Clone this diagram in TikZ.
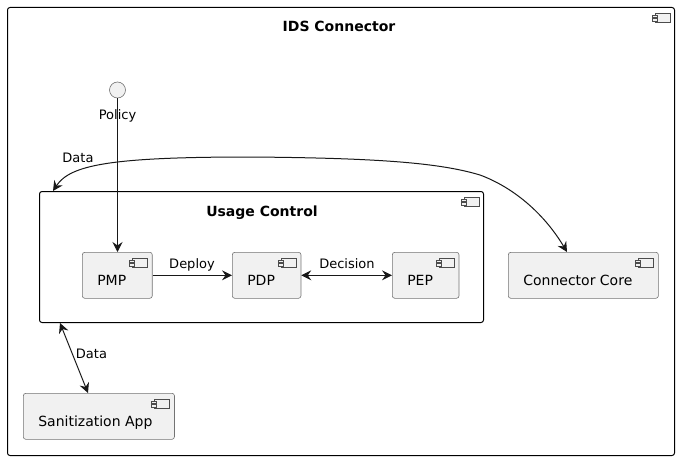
\documentclass[tikz,border=0pt]{standalone}
\usepackage{fontspec}
\setmainfont{DejaVu Sans}
\usetikzlibrary{calc}
\usetikzlibrary{arrows.meta}
\definecolor{compfill}{HTML}{F1F1F1}
\definecolor{umlline}{HTML}{181818}
\newcommand{\compicon}[1]{ \draw[icon] ($(#1.north east)+(-20,6)$) rectangle ($(#1.north east)+(-5,15)$); \draw[icon] ($(#1.north east)+(-23,8)$) rectangle ($(#1.north east)+(-18,10.5)$); \draw[icon] ($(#1.north east)+(-23,11.5)$) rectangle ($(#1.north east)+(-18,14)$);}
\tikzset{
  comp/.style={draw=black!55, fill=compfill, rounded corners=2.5pt, line width=0.6pt, inner xsep=0pt, inner ysep=0pt, text height=33pt, text depth=13pt, anchor=north west, font=\fontsize{14}{16}\selectfont, execute at begin node=\hspace*{15pt}, execute at end node=\hspace*{#1}},
  comp/.default=26pt,
  container/.style={draw=black, line width=1pt, rounded corners=2.5pt, anchor=north west, inner sep=0pt},
  icon/.style={draw=black!70, fill=compfill, line width=0.6pt},
  title/.style={anchor=base, inner sep=0pt, font=\bfseries\fontsize{14}{16}\selectfont},
  lbl/.style={anchor=base, inner sep=0pt, font=\fontsize{13}{15}\selectfont},
  conn/.style={draw=umlline, line width=1pt, -{Stealth[length=10pt,width=10pt,inset=3.5pt]}},
  both/.style={{Stealth[length=10pt,width=10pt,inset=3.5pt]}-{Stealth[length=10pt,width=10pt,inset=3.5pt]}}
}
\begin{document}
\begin{tikzpicture}[x=1pt,y=-1pt]
        \useasboundingbox (0,0) rectangle (679,460);
        % containers
        \node[container, minimum width=667, minimum height=448] (ids) at (7,7) {};
        \node[title] (idstitle) at (339,32) {IDS Connector};
        \compicon{ids}
        \node[container, minimum width=444, minimum height=131] (uc) at (39,191) {};
        \node[title] (uctitle) at (262,216) {Usage Control};
        \compicon{uc}
        % interface
        \node[circle, draw=black!55, fill=compfill, line width=0.6pt, minimum size=16pt, inner sep=0pt] (policy) at (117.5,90) {};
        \node[lbl] (policylbl) at (117.5,119) {Policy};
        % components
        \node[comp] (pmp) at (82,252) {PMP};
        \node[comp] (pdp) at (232,252) {PDP};
        \node[comp] (pep) at (392,252) {PEP};
        \node[comp] (cc) at (508,252) {Connector Core};
        \node[comp=22pt] (san) at (23,393) {Sanitization App};
        \compicon{pmp}
        \compicon{pdp}
        \compicon{pep}
        \compicon{cc}
        \compicon{san}
        % links
        \draw[conn] (policy.south) -- (policy.south |- pmp.north);
        \draw[conn] (pmp) -- (pdp);
        \node[lbl] (deploy) at (192,268) {Deploy};
        \draw[conn, both] (pdp) -- (pep);
        \node[lbl] (decision) at (347,268) {Decision};
        \draw[conn, both] ($(uc.north west)+(14,0)$) .. controls (70,165) and (110,157) .. (250,157) .. controls (380,158) and (440,163) .. (480,175) .. controls (515,188) and (545,215) .. ($(cc.north west)+(59,0)$);
        \node[lbl] (datatop) at (78,162) {Data};
        \draw[conn, both] ($(uc.south west)+(21,0)$) -- ($(san.north west)+(65,0)$);
        \node[lbl] (databot) at (91.5,358) {Data};
    \end{tikzpicture}
\end{document}
